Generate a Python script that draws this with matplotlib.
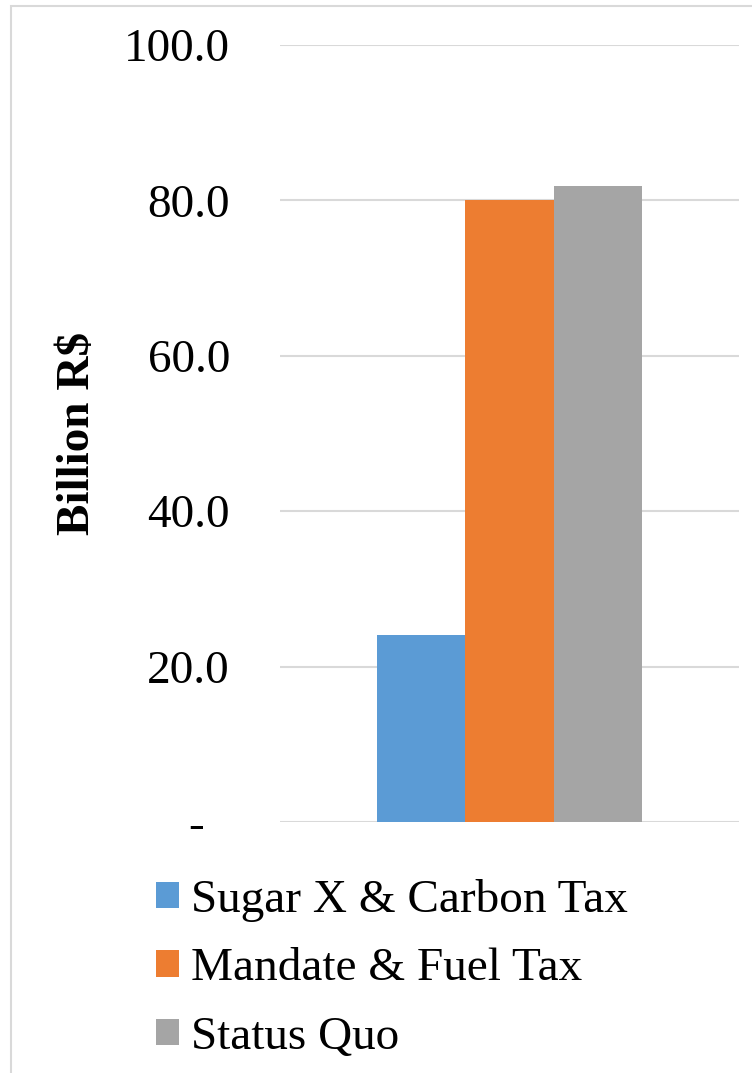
import matplotlib.pyplot as plt
import matplotlib.transforms as mtransforms
from matplotlib.patches import Rectangle

plt.rcParams['font.family'] = ['Liberation Serif', 'DejaVu Serif']

# data
scenarios = ['Sugar X & Carbon Tax', 'Mandate & Fuel Tax', 'Status Quo']
values = [24.1, 80.1, 81.9]
colors = ['#5B9BD5', '#ED7D31', '#A5A5A5']
yticks = [0, 20, 40, 60, 80, 100]
ytick_labels = ['-', '20.0', '40.0', '60.0', '80.0', '100.0']

fig = plt.figure(figsize=(7.52, 10.73), dpi=100)
ax = fig.add_axes([0.3723, 0.2339, 0.6104, 0.7242])

positions = [-1, 0, 1]
bars = ax.bar(positions, values, width=1.0, color=colors, label=scenarios, zorder=3)

ax.set_xlim(-2.59, 2.59)
ax.set_ylim(0, 100)
ax.set_yticks(yticks)
ax.set_yticklabels(ytick_labels, fontsize=34)
ax.set_xticks([])
ax.tick_params(axis='y', length=0, pad=36)
ax.grid(axis='y', color='#D9D9D9', linewidth=1.5, zorder=0)
for s in ax.spines.values():
    s.set_visible(False)

# the "-" zero label sits further left (accounting style)
zero_lbl = ax.get_yticklabels()[0]
zero_lbl.set_horizontalalignment('center')
zero_lbl.set_transform(zero_lbl.get_transform() +
                       mtransforms.ScaledTranslation(-0.34, 0.0, fig.dpi_scale_trans))

ax.set_ylabel('Billion R$', fontsize=34, fontweight='bold')
ax.yaxis.set_label_coords(-0.395, 0.5)

leg = fig.legend(handles=list(bars), labels=scenarios, loc='upper left',
                 bbox_to_anchor=(0.207, 0.181), frameon=False, fontsize=34,
                 handlelength=0.5, handleheight=0.5, handletextpad=0.25,
                 labelspacing=0.55, borderaxespad=0, borderpad=0)

# outer chart border
fig.patches.append(Rectangle((11 / 752, -0.01), 1.0, 1 - 5.5 / 1073 + 0.01,
                             transform=fig.transFigure, fill=False,
                             edgecolor='#D9D9D9', linewidth=1.5))

fig.savefig('out.png', dpi=100)
